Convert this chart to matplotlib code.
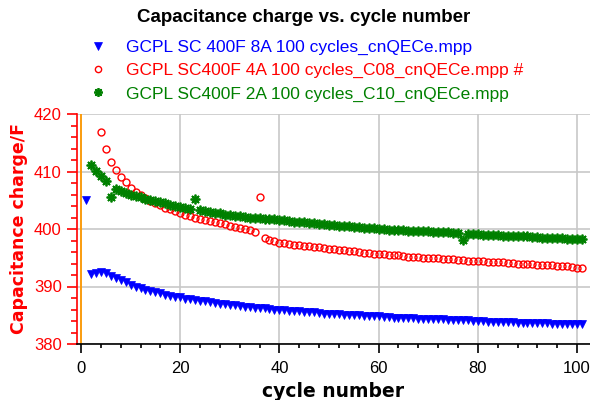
import matplotlib
matplotlib.use("Agg")
import matplotlib.pyplot as plt
from matplotlib.ticker import MultipleLocator

# ---------------- data ----------------
title = "Capacitance charge vs. cycle number"
xlabel = "cycle number"
ylabel = "Capacitance charge/F"

labels = [
    "GCPL SC 400F 8A 100 cycles_cnQECe.mpp",
    "GCPL SC400F 4A 100 cycles_C08_cnQECe.mpp #",
    "GCPL SC400F 2A 100 cycles_C10_cnQECe.mpp",
]

cycles_8A = list(range(1, 102))
cap_8A = [
    405.0, 392.1, 392.3, 392.5, 392.3, 391.9, 391.5, 391.1, 390.7, 390.3,
    390.0, 389.7, 389.4, 389.2, 389.0, 388.8, 388.6, 388.4, 388.2, 388.1,
    387.9, 387.8, 387.6, 387.5, 387.4, 387.3, 387.1, 387.0, 386.9, 386.8,
    386.7, 386.6, 386.5, 386.4, 386.3, 386.3, 386.2, 386.1, 386.0, 386.0,
    385.9, 385.8, 385.7, 385.7, 385.6, 385.5, 385.5, 385.4, 385.3, 385.3,
    385.2, 385.2, 385.1, 385.1, 385.0, 385.0, 384.9, 384.9, 384.8, 384.8,
    384.7, 384.7, 384.6, 384.6, 384.6, 384.5, 384.5, 384.4, 384.4, 384.4,
    384.3, 384.3, 384.3, 384.2, 384.2, 384.1, 384.1, 384.1, 384.0, 384.0,
    384.0, 383.9, 383.9, 383.9, 383.8, 383.8, 383.8, 383.7, 383.7, 383.7,
    383.6, 383.6, 383.6, 383.6, 383.5, 383.5, 383.5, 383.4, 383.4, 383.4,
    383.4,
]

cycles_4A = list(range(4, 102))
cap_4A = [
    416.9, 414.0, 411.7, 410.3, 409.1, 408.1, 407.2, 406.5,
    405.9, 405.4, 404.9, 404.5, 404.1, 403.7, 403.4, 403.1, 402.7, 402.5,
    402.3, 402.0, 401.8, 401.6, 401.4, 401.2, 401.0, 400.8, 400.6, 400.4,
    400.2, 400.0, 399.8, 399.5, 405.6, 398.4, 398.1, 397.9, 397.6, 397.5,
    397.4, 397.3, 397.2, 397.1, 397.0, 396.9, 396.8, 396.7, 396.6, 396.5,
    396.4, 396.3, 396.2, 396.1, 396.0, 395.9, 395.8, 395.7, 395.6, 395.6,
    395.5, 395.4, 395.4, 395.3, 395.2, 395.2, 395.1, 395.0, 395.0, 394.9,
    394.9, 394.8, 394.8, 394.7, 394.6, 394.6, 394.5, 394.5, 394.4, 394.4,
    394.3, 394.3, 394.2, 394.2, 394.1, 394.1, 394.0, 394.0, 393.9, 393.9,
    393.8, 393.8, 393.7, 393.7, 393.6, 393.6, 393.5, 393.4, 393.3, 393.3,
]

cycles_2A = list(range(2, 102))
cap_2A = [
    411.1, 410.1, 409.3, 408.4, 405.5, 406.9, 406.6, 406.3, 406.0,
    405.7, 405.5, 405.3, 405.1, 404.9, 404.7, 404.5, 404.2, 404.0, 403.8,
    403.6, 403.5, 405.3, 403.3, 403.1, 403.0, 402.8, 402.7, 402.5, 402.4,
    402.3, 402.2, 402.1, 402.0, 401.9, 401.9, 401.8, 401.7, 401.7, 401.6,
    401.5, 401.4, 401.3, 401.2, 401.2, 401.1, 401.0, 400.9, 400.8, 400.7,
    400.7, 400.6, 400.5, 400.5, 400.4, 400.3, 400.2, 400.1, 400.1, 400.0,
    400.0, 399.9, 399.9, 399.8, 399.8, 399.7, 399.7, 399.7, 399.6, 399.6,
    399.5, 399.5, 399.4, 399.4, 399.3, 399.3, 398.1, 399.1, 399.1, 399.1,
    399.0, 399.0, 398.9, 398.9, 398.8, 398.8, 398.8, 398.7, 398.7, 398.7,
    398.6, 398.6, 398.5, 398.5, 398.4, 398.4, 398.4, 398.3, 398.3, 398.3,
    398.3,
]

x_ticks = [0, 20, 40, 60, 80, 100]
y_ticks = [380, 390, 400, 410, 420]

# ---------------- figure ----------------
plt.rcParams["font.family"] = ["Liberation Sans", "DejaVu Sans"]

fig = plt.figure(figsize=(5.9, 4.0), dpi=100)
ax = fig.add_axes([77 / 590, 56 / 400, 513 / 590, 230 / 400])

BLUE, RED, GREEN = "#0000FF", "#FF0000", "#008000"

h1, = ax.plot(cycles_8A, cap_8A, linestyle="none", marker="v", color=BLUE,
              markersize=6, markeredgewidth=0.5, zorder=4)
h2, = ax.plot(cycles_4A, cap_4A, linestyle="none", marker="o", markerfacecolor="none",
              markeredgecolor=RED, color=RED, markersize=5, markeredgewidth=1.0, zorder=4)
h3, = ax.plot(cycles_2A, cap_2A, linestyle="none", marker=(8, 2, 0), color=GREEN,
              markeredgecolor=GREEN, markersize=7, markeredgewidth=1.3, zorder=4)

ax.set_xlim(-0.8, 102.6)
ax.set_ylim(380, 420)

ax.set_xticks(x_ticks)
ax.set_yticks(y_ticks)
ax.xaxis.set_minor_locator(MultipleLocator(4))
ax.yaxis.set_minor_locator(MultipleLocator(2))

ax.grid(True, which="major", color="#C8C8C8", linewidth=1.2, zorder=0)
ax.set_axisbelow(True)
ax.axvline(0, color="#FF9900", linewidth=1.3, zorder=1)

for s in ["top", "right"]:
    ax.spines[s].set_visible(False)
ax.spines["left"].set_color(RED)
ax.spines["left"].set_linewidth(1.2)
ax.spines["bottom"].set_color("black")
ax.spines["bottom"].set_linewidth(1.2)

ax.tick_params(axis="y", which="both", colors=RED, labelsize=12, pad=4)
ax.tick_params(axis="y", which="major", length=7, width=1.2)
ax.tick_params(axis="y", which="minor", length=4, width=1.2)
ax.tick_params(axis="x", which="both", colors="black", labelsize=12, pad=6)
ax.tick_params(axis="x", which="major", length=6.5, width=1.2)
ax.tick_params(axis="x", which="minor", length=3, width=1.2)

ax.set_xlabel(xlabel, family="DejaVu Sans", fontweight="bold", fontsize=13.5,
              labelpad=4)
ax.set_ylabel(ylabel, family="DejaVu Sans", fontweight="bold", fontsize=12.5,
              color=RED, labelpad=4)

fig.text(304 / 590, 1 - 17 / 400, title, ha="center", va="center",
         fontweight="bold", fontsize=13.5)

leg = fig.legend([h1, h2, h3], labels, loc="upper left",
                 bbox_to_anchor=(89 / 590, 1 - 40 / 400), frameon=False,
                 fontsize=12.5, handlelength=1.0, handletextpad=1.15,
                 labelspacing=0.45, borderpad=0, borderaxespad=0,
                 labelcolor="linecolor", markerscale=0.9)

fig.savefig("out.png", dpi=100)
